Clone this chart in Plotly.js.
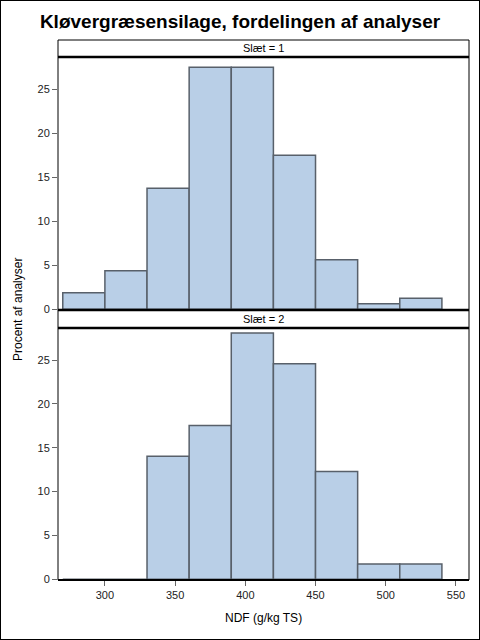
<!DOCTYPE html>
<html>
<head>
<meta charset="utf-8">
<script src="https://cdn.plot.ly/plotly-3.0.1.min.js"></script>
<style>
html,body{margin:0;padding:0;background:#fff;}
#chart{width:480px;height:640px;}
#frame{position:fixed;left:0;top:0;width:478px;height:638px;border:1px solid #000;pointer-events:none;}
</style>
</head>
<body>
<div id="chart"></div>
<div id="frame"></div>
<script>
// Histogram bins (NDF, g/kg TS): lower edges, width 30
const binLower = [270, 300, 330, 360, 390, 420, 450, 480, 510];
const binWidth = 30;
// Percent of analyses per bin
const pctSlaet1 = [1.875, 4.375, 13.75, 27.5, 27.5, 17.5, 5.625, 0.625, 1.25];
const pctSlaet2 = [0, 0, 14.04, 17.54, 28.07, 24.56, 12.28, 1.75, 1.75];
const panelLabels = ["Slæt = 1", "Slæt = 2"];
const xTicks = [300, 350, 400, 450, 500, 550];
const yTicks = [0, 5, 10, 15, 20, 25];

const centers = binLower.map(v => v + binWidth / 2);
const FONT = "Liberation Sans, Arial, sans-serif";
const fill = "#B9CFE7";
const edge = "#58606a";

const barStyle = {
  type: "bar",
  x: centers,
  width: binWidth,
  marker: {color: fill, line: {color: edge, width: 1.5}},
  hoverinfo: "skip",
  showlegend: false
};

const traces = [
  Object.assign({}, barStyle, {y: pctSlaet1, xaxis: "x2", yaxis: "y2"}),
  Object.assign({}, barStyle, {y: pctSlaet2, xaxis: "x", yaxis: "y"})
];

// pixel layout helpers (plot area 58..469 x 40..580)
const H = 540;
const fy = px => (580 - px) / H;
const p2top = fy(328), s2top = fy(310), p1top = fy(57);

const yCommon = {
  range: [-0.08, 28.65],
  tickvals: yTicks,
  ticks: "outside",
  ticklen: 5,
  tickwidth: 1,
  tickcolor: "#666",
  showgrid: false,
  zeroline: false,
  showline: false,
  tickfont: {family: FONT, size: 11, color: "#222"},
  fixedrange: true
};
const xRange = [266.6, 559.3];

const layout = {
  width: 480,
  height: 640,
  margin: {l: 58, r: 11, t: 40, b: 60, pad: 0},
  paper_bgcolor: "#fff",
  plot_bgcolor: "#fff",
  bargap: 0,
  font: {family: FONT, color: "#000"},
  title: {
    text: "<b>Kløvergræsensilage, fordelingen af analyser</b>",
    font: {family: FONT, size: 19, color: "#000"},
    x: 0.5, xref: "container", xanchor: "center",
    y: 1 - 21 / 640, yref: "container", yanchor: "middle"
  },
  xaxis: {
    domain: [0, 1], anchor: "y", range: xRange,
    tickvals: xTicks, ticks: "outside", ticklen: 5, tickcolor: "#666",
    tickfont: {family: FONT, size: 11, color: "#222"},
    showgrid: false, zeroline: false, showline: false, fixedrange: true
  },
  xaxis2: {
    domain: [0, 1], anchor: "y2", matches: "x", range: xRange,
    showticklabels: false, ticks: "", showgrid: false, zeroline: false, showline: false
  },
  yaxis: Object.assign({}, yCommon, {domain: [0, p2top], anchor: "x"}),
  yaxis2: Object.assign({}, yCommon, {domain: [s2top, p1top], anchor: "x2"}),
  shapes: [
    // strips
    {type: "rect", xref: "paper", yref: "paper", x0: 0, x1: 1, y0: p1top, y1: 1, line: {color: "#000", width: 1}, fillcolor: "rgba(0,0,0,0)", layer: "above"},
    {type: "rect", xref: "paper", yref: "paper", x0: 0, x1: 1, y0: p2top, y1: s2top, line: {color: "#000", width: 1}, fillcolor: "rgba(0,0,0,0)", layer: "above"},
    // panels
    {type: "rect", xref: "paper", yref: "paper", x0: 0, x1: 1, y0: s2top, y1: p1top, line: {color: "#000", width: 1}, fillcolor: "rgba(0,0,0,0)", layer: "above"},
    {type: "rect", xref: "paper", yref: "paper", x0: 0, x1: 1, y0: 0, y1: p2top, line: {color: "#000", width: 1}, fillcolor: "rgba(0,0,0,0)", layer: "above"},
    // heavier separators
    {type: "line", xref: "paper", yref: "paper", x0: 0, x1: 1, y0: p1top, y1: p1top, line: {color: "#000", width: 2.5}, layer: "above"},
    {type: "line", xref: "paper", yref: "paper", x0: 0, x1: 1, y0: s2top, y1: s2top, line: {color: "#000", width: 2.5}, layer: "above"},
    {type: "line", xref: "paper", yref: "paper", x0: 0, x1: 1, y0: p2top, y1: p2top, line: {color: "#000", width: 2.5}, layer: "above"},
    {type: "line", xref: "paper", yref: "paper", x0: 0, x1: 1, y0: 0, y1: 0, line: {color: "#000", width: 2}, layer: "above"}
  ],
  annotations: [
    {text: panelLabels[0], xref: "paper", yref: "paper", x: 0.5, y: (p1top + 1) / 2, xanchor: "center", yanchor: "middle", showarrow: false, font: {family: FONT, size: 11, color: "#000"}},
    {text: panelLabels[1], xref: "paper", yref: "paper", x: 0.5, y: (p2top + s2top) / 2, xanchor: "center", yanchor: "middle", showarrow: false, font: {family: FONT, size: 11, color: "#000"}},
    {text: "Procent af analyser", xref: "paper", yref: "paper", x: (18 - 58) / 411, y: fy(310), xanchor: "center", yanchor: "middle", textangle: -90, showarrow: false, font: {family: FONT, size: 12, color: "#000"}},
    {text: "NDF (g/kg TS)", xref: "paper", yref: "paper", x: 0.5, y: fy(618), xanchor: "center", yanchor: "middle", showarrow: false, font: {family: FONT, size: 12, color: "#000"}}
  ]
};

Plotly.newPlot("chart", traces, layout, {staticPlot: true, displayModeBar: false});
</script>
</body>
</html>
